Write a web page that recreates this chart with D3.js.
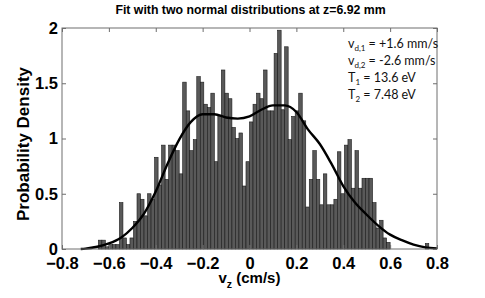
<!DOCTYPE html>
<html>
<head>
<meta charset="utf-8">
<script src="https://cdn.jsdelivr.net/npm/d3@7"></script>
<style>
  body { margin: 0; background: #fff; }
  svg { display: block; }
  .axis text { font-family: "Liberation Sans", Arial, sans-serif; font-weight: bold; font-size: 16.5px; fill: #000; }
  .axis path, .axis line { stroke: #6e6e6e; }
</style>
</head>
<body>
<svg id="chart" width="485" height="298"></svg>
<script>
// histogram: first bin left edge, bin width, density of each bin
var binStart = -0.645
var binWidth = 0.015
var density = [
  0.08, 0.08, 0.02, 0.04, 0.04, 0.04, 0.42, 0.10, 0.04, 0.10,
  0.25, 0.50, 0.45, 0.30, 0.50, 0.45, 0.83, 0.58, 0.94, 0.63,
  0.94, 0.94, 0.89, 0.68, 1.51, 1.25, 0.89, 0.99, 1.56, 1.51,
  1.31, 1.28, 1.41, 0.79, 1.21, 1.62, 1.41, 1.36, 1.10, 1.00,
  1.05, 0.57, 0.79, 1.15, 1.31, 1.41, 1.36, 1.62, 1.25, 1.25,
  1.77, 1.98, 1.26, 1.83, 0.99, 1.20, 1.25, 1.41, 1.16, 0.38,
  0.63, 0.89, 0.63, 0.40, 0.68, 0.40, 0.40, 0.45, 0.88, 0.50,
  0.94, 0.99, 0.55, 0.89, 0.55, 0.64, 0.64, 0.64, 0.42, 0.19,
  0.26, 0.10, 0.06, 0, 0, 0, 0, 0, 0, 0,
  0, 0, 0, 0.05
]

// fitted curve
var fitV = [-0.72, -0.70, -0.65, -0.60, -0.55, -0.50, -0.45, -0.40, -0.35, -0.30,
  -0.25, -0.20, -0.15, -0.10, -0.05, 0.00, 0.05, 0.10, 0.15, 0.20,
  0.25, 0.30, 0.35, 0.40, 0.45, 0.50, 0.55, 0.60, 0.65, 0.70, 0.75, 0.80]
var fitP = [0, 0.003, 0.02, 0.05, 0.10, 0.19, 0.32, 0.52, 0.77, 0.99,
  1.15, 1.22, 1.22, 1.19, 1.18, 1.20, 1.26, 1.30, 1.30, 1.24,
  1.08, 0.95, 0.77, 0.57, 0.42, 0.31, 0.21, 0.13, 0.08, 0.04, 0.015, 0.005]

var xTicks = [-0.8, -0.6, -0.4, -0.2, 0, 0.2, 0.4, 0.6, 0.8]
var xTickLabels = ["\u22120.8", "\u22120.6", "\u22120.4", "\u22120.2", "0", "0.2", "0.4", "0.6", "0.8"]
var yTicks = [0, 0.5, 1, 1.5, 2]
var yTickLabels = ["0", "0.5", "1", "1.5", "2"]

var svg = d3.select('#chart')
var margin = { top: 28, right: 48, bottom: 49, left: 62 },
    width = 485 - margin.left - margin.right,
    height = 298 - margin.top - margin.bottom

var g = svg.append("g")
    .attr("transform", "translate(" + margin.left + "," + margin.top + ")")

var x = d3.scaleLinear().domain([-0.8, 0.8]).range([0, width])
var y = d3.scaleLinear().domain([0, 2]).range([height, 0])

// bars
g.selectAll(".bar")
    .data(density)
    .enter()
    .append("rect")
    .attr("class", "bar")
    .attr("x", function (d, i) { return x(binStart + i * binWidth) })
    .attr("width", function (d, i) { return x(binStart + (i + 1) * binWidth) - x(binStart + i * binWidth) })
    .attr("y", function (d) { return y(d) })
    .attr("height", function (d) { return height - y(d) })
    .style("fill", "#595959")
    .style("stroke", "#1a1a1a")
    .style("stroke-width", 0.6)

// fit curve
var line = d3.line()
    .x(function (d, i) { return x(fitV[i]) })
    .y(function (d) { return y(d) })
    .curve(d3.curveMonotoneX)

g.append("path")
    .datum(fitP)
    .attr("d", line)
    .style("fill", "none")
    .style("stroke", "#000")
    .style("stroke-width", 2.4)

// axes, ticks pointing inwards
var xAxis = d3.axisBottom(x).tickValues(xTicks)
    .tickFormat(function (d, i) { return xTickLabels[i] })
    .tickSizeInner(-4).tickSizeOuter(0).tickPadding(8)
var yAxis = d3.axisLeft(y).tickValues(yTicks)
    .tickFormat(function (d, i) { return yTickLabels[i] })
    .tickSizeInner(-4).tickSizeOuter(0).tickPadding(4)

g.append("g").attr("class", "axis")
    .attr("transform", "translate(0," + height + ")")
    .call(xAxis)
g.append("g").attr("class", "axis")
    .call(yAxis)
g.append("g").attr("class", "axis")
    .call(d3.axisTop(x).tickValues(xTicks).tickFormat("").tickSizeInner(-4).tickSizeOuter(0))
g.append("g").attr("class", "axis")
    .attr("transform", "translate(" + width + ",0)")
    .call(d3.axisRight(y).tickValues(yTicks).tickFormat("").tickSizeInner(-4).tickSizeOuter(0))

g.selectAll(".axis .domain").remove()
g.append("rect")
    .attr("width", width)
    .attr("height", height)
    .style("fill", "none")
    .style("stroke", "#6e6e6e")
    .style("stroke-width", 1)

// title
svg.append("text")
    .attr("x", margin.left + width / 2 + 1)
    .attr("y", 14)
    .attr("text-anchor", "middle")
    .style("font-family", "Liberation Sans, Arial, sans-serif")
    .style("font-weight", "bold")
    .style("font-size", "12.3px")
    .text("Fit with two normal distributions at z=6.92 mm")

// x label
var xl = svg.append("text")
    .attr("x", margin.left + width / 2)
    .attr("y", 283)
    .attr("text-anchor", "middle")
    .style("font-family", "Liberation Sans, Arial, sans-serif")
    .style("font-weight", "bold")
    .style("font-size", "15px")
xl.append("tspan").text("v")
xl.append("tspan").attr("dy", 5).style("font-size", "10.5px").text("z")
xl.append("tspan").attr("dy", -5).text(" (cm/s)")

// y label
svg.append("text")
    .attr("transform", "translate(29,144) rotate(-90)")
    .attr("text-anchor", "middle")
    .style("font-family", "Liberation Sans, Arial, sans-serif")
    .style("font-weight", "bold")
    .style("font-size", "17px")
    .text("Probability Density")

// annotation
var notes = [
  { main: "v", sub: "d,1", rest: " = +1.6 mm/s" },
  { main: "v", sub: "d,2", rest: " = -2.6 mm/s" },
  { main: "T", sub: "1", rest: " = 13.6 eV" },
  { main: "T", sub: "2", rest: " = 7.48 eV" }
]
notes.forEach(function (n, i) {
  var t = svg.append("text")
      .attr("x", 348)
      .attr("y", 48 + i * 17)
      .style("font-family", "Lato, 'Open Sans', sans-serif")
      .style("font-size", "12.5px")
      .style("fill", "#111")
  t.append("tspan").text(n.main)
  t.append("tspan").attr("dy", 3).style("font-size", "8px").text(n.sub)
  t.append("tspan").attr("dy", -3).text(n.rest)
})
</script>
</body>
</html>
